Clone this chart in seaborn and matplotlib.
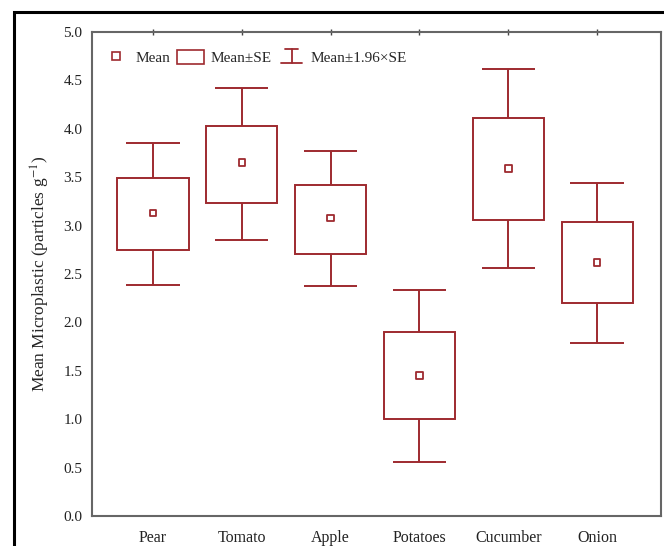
import matplotlib
matplotlib.use("Agg")
import matplotlib.pyplot as plt
import seaborn as sns
import pandas as pd
import numpy as np
from matplotlib.lines import Line2D
from matplotlib.patches import Patch, Rectangle
from matplotlib.legend_handler import HandlerBase

categories = ["Pear", "Tomato", "Apple", "Potatoes", "Cucumber", "Onion"]
means = [3.13, 3.65, 3.08, 1.45, 3.59, 2.62]
se_low = [2.75, 3.23, 2.71, 1.00, 3.06, 2.20]
se_high = [3.49, 4.03, 3.42, 1.90, 4.11, 3.04]
ci_low = [2.39, 2.85, 2.38, 0.56, 2.56, 1.79]
ci_high = [3.85, 4.42, 3.77, 2.33, 4.62, 3.44]
yticks = [0.0, 0.5, 1.0, 1.5, 2.0, 2.5, 3.0, 3.5, 4.0, 4.5, 5.0]

RED = "#9e2a2f"

sns.set_theme(style="white")
plt.rcParams["font.family"] = ["Liberation Serif", "DejaVu Serif"]
plt.rcParams["mathtext.fontset"] = "stix"

df = pd.DataFrame({"cat": categories, "mean": means, "se_lo": se_low,
                   "se_hi": se_high, "ci_lo": ci_low, "ci_hi": ci_high})
x = np.arange(len(categories))

fig = plt.figure(figsize=(6.64, 5.46), dpi=100)
ax = fig.add_axes([92/664, 1-516/546, (661-92)/664, (516-32)/546])

# boxes (mean ± SE)
ax.bar(x, df["se_hi"] - df["se_lo"], bottom=df["se_lo"], width=0.8,
       facecolor="none", edgecolor=RED, linewidth=1.4, zorder=2)
# whiskers (mean ± 1.96 SE)
ax.vlines(x, df["se_hi"], df["ci_hi"], color=RED, linewidth=1.4, zorder=2)
ax.vlines(x, df["ci_lo"], df["se_lo"], color=RED, linewidth=1.4, zorder=2)
ax.hlines(df["ci_hi"], x - 0.3, x + 0.3, color=RED, linewidth=1.4, zorder=2)
ax.hlines(df["ci_lo"], x - 0.3, x + 0.3, color=RED, linewidth=1.4, zorder=2)
# means
sns.scatterplot(x=x, y=df["mean"], marker="s", s=22, facecolor="none",
                edgecolor=RED, linewidth=1.3, ax=ax, zorder=3)

ax.set_xlim(-0.687, 5.72)
ax.set_ylim(0, 5.0)
ax.set_xticks(x)
ax.set_xticklabels(categories, fontsize=11.5)
ax.set_yticks(yticks)
ax.set_yticklabels([f"{v:.1f}" for v in yticks], fontsize=11)
ax.set_xlabel("")
ax.set_ylabel("Mean Microplastic (particles g$^{-1}$)", fontsize=12.5, labelpad=8)
ax.tick_params(axis="both", direction="out", length=3, width=1, color="#444444",
               colors="#222222", pad=4)
ax.tick_params(axis="x", pad=8, top=True)
ax.xaxis.set_tick_params(which="major", direction="inout", length=4)
for s in ax.spines.values():
    s.set_color("#666666")
    s.set_linewidth(1.5)


class WhiskerHandler(HandlerBase):
    def create_artists(self, legend, orig_handle, xdescent, ydescent,
                       width, height, fontsize, trans):
        cx = width / 2 - xdescent
        top = height * 1.0
        bot = -height * 0.05
        l1 = Line2D([cx, cx], [bot, top], color=RED, lw=1.3)
        l2 = Line2D([cx - width * 0.25, cx + width * 0.25], [top, top], color=RED, lw=1.3)
        l3 = Line2D([cx - width * 0.4, cx + width * 0.4], [bot, bot], color=RED, lw=1.3)
        for l in (l1, l2, l3):
            l.set_transform(trans)
        return [l1, l2, l3]


class WhiskerKey:
    pass


h_mean = Line2D([], [], marker="s", markersize=5.5, markerfacecolor="none",
                markeredgecolor=RED, linestyle="none", markeredgewidth=1.2)
h_box = Patch(facecolor="none", edgecolor=RED, linewidth=1.2)
h_wh = WhiskerKey()
ax.legend([h_mean, h_box, h_wh], ["Mean", "Mean±SE", "Mean±1.96×SE"],
          handler_map={WhiskerKey: WhiskerHandler()},
          loc="upper left", bbox_to_anchor=(0.0, 0.984), ncol=3, frameon=False,
          fontsize=11, handlelength=1.75, handleheight=0.95, handletextpad=0.4,
          columnspacing=0.45, borderaxespad=0.3)

# outer black frame
fig.patches.append(Rectangle((14/664, -0.1), 1.2, 1 - 12/546 + 0.1,
                             transform=fig.transFigure, fill=False,
                             edgecolor="black", linewidth=2.2, zorder=0))

fig.savefig("out.png", dpi=100)
